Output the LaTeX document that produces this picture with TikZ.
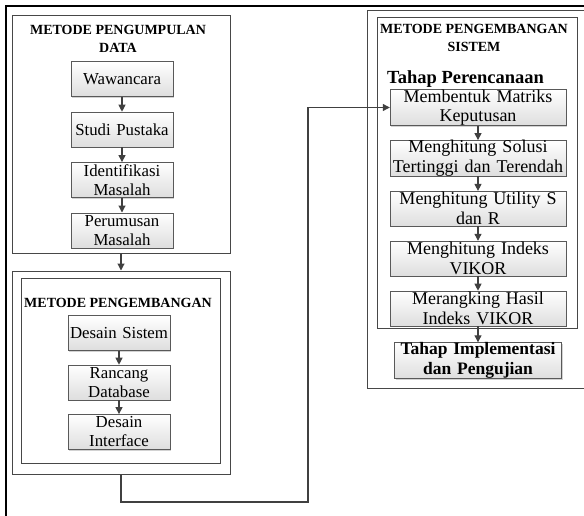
\documentclass[tikz,border=0pt]{standalone}
\usepackage{fontspec}
\setmainfont{Liberation Serif}
\usetikzlibrary{positioning,arrows.meta,shadows}

\tikzset{
  procbox/.style={draw=black!65, top color=white, bottom color=black!13,
    minimum height=35pt, inner xsep=0.5pt, inner ysep=0pt, align=center,
    drop shadow={shadow xshift=1.3pt, shadow yshift=-1.3pt, fill=black!35, opacity=0.5}},
  leftbox/.style={procbox, text width=101pt, font=\fontsize{16.8}{19}\selectfont},
  rightbox/.style={procbox, text width=175pt, font=\fontsize{18}{19.5}\selectfont},
  groupbox/.style={draw=black!72, line width=1pt, inner sep=0pt},
  judul/.style={font=\bfseries\fontsize{14}{18}\selectfont, align=center, inner sep=0pt},
  arr/.style={draw=black!75, line width=1.1pt, -{Triangle[length=7pt,width=7pt]}},
}

\begin{document}
\begin{tikzpicture}[x=1pt, y=-1pt]
  \useasboundingbox (0,0) rectangle (584,515);
  \clip (0,0) rectangle (584,515);
  \draw[line width=2.5pt] (6,540) -- (6,6) -- (610,6);

  % kotak pengumpulan data
  \node[groupbox, minimum width=218pt, minimum height=238pt] (pkumpul) at (121,134) {};
  \node[judul, anchor=north] (tkumpul) at (118,25.5) {METODE PENGUMPULAN\\DATA};
  \node[leftbox] (waw) at (122,79) {Wawancara};
  \node[leftbox, below=15pt of waw] (studi) {Studi Pustaka};
  \node[leftbox, below=15pt of studi] (identif) {Identifikasi\\Masalah};
  \node[leftbox, below=15pt of identif] (rumus) {Perumusan\\Masalah};

  % kotak pengembangan
  \node[groupbox, minimum width=218pt, minimum height=203pt] (pbang) at (121,372.5) {};
  \node[groupbox, minimum width=199pt, minimum height=185pt] (pbangin) at (120.5,370.5) {};
  \node[judul, anchor=base] (tbang) at (118,307) {METODE PENGEMBANGAN};
  \node[leftbox] (dsistem) at (119,333) {Desain Sistem};
  \node[leftbox, below=14pt of dsistem] (rancang) {Rancang\\Database};
  \node[leftbox, below=14pt of rancang] (dinter) {Desain\\Interface};

  % kotak pengembangan sistem
  \node[groupbox, minimum width=243pt, minimum height=378pt] (psistem) at (488.5,199) {};
  \node[groupbox, minimum width=200pt, minimum height=311pt] (psistemin) at (477,172.5) {};
  \node[judul, anchor=north] (tsistem) at (474,23.7) {METODE PENGEMBANGAN\\SISTEM};
  \node[font=\bfseries\fontsize{18.5}{20}\selectfont, anchor=base west, inner sep=0pt]
    (tahap) at (387,83) {Tahap Perencanaan};
  \node[rightbox] (matriks) at (478,107.5) {Membentuk Matriks\\Keputusan};
  \node[rightbox, below=14.5pt of matriks] (solusi) {Menghitung Solusi\\Tertinggi dan Terendah};
  \node[rightbox, below=14.5pt of solusi] (utility) {Menghitung Utility S\\dan R};
  \node[rightbox, below=14.5pt of utility] (indeks) {Menghitung Indeks\\VIKOR};
  \node[rightbox, below=14.5pt of indeks] (rangking) {Merangking Hasil\\Indeks VIKOR};
  \node[procbox, text width=166pt, font=\bfseries\fontsize{17.5}{20}\selectfont]
    (implement) at (478,360.5) {Tahap Implementasi\\dan Pengujian};

  \draw[arr] (waw) -- (studi);
  \draw[arr] (studi) -- (identif);
  \draw[arr] (identif) -- (rumus);
  \draw[arr] (pkumpul) -- (pbang);
  \draw[arr] (dsistem) -- (rancang);
  \draw[arr] (rancang) -- (dinter);
  \coordinate (belok) at (308,502);
  \draw[arr] (pbang.south) |- (belok) |- (matriks.west);
  \draw[arr] (matriks) -- (solusi);
  \draw[arr] (solusi) -- (utility);
  \draw[arr] (utility) -- (indeks);
  \draw[arr] (indeks) -- (rangking);
  \draw[arr] (rangking) -- (implement);
\end{tikzpicture}
\end{document}
